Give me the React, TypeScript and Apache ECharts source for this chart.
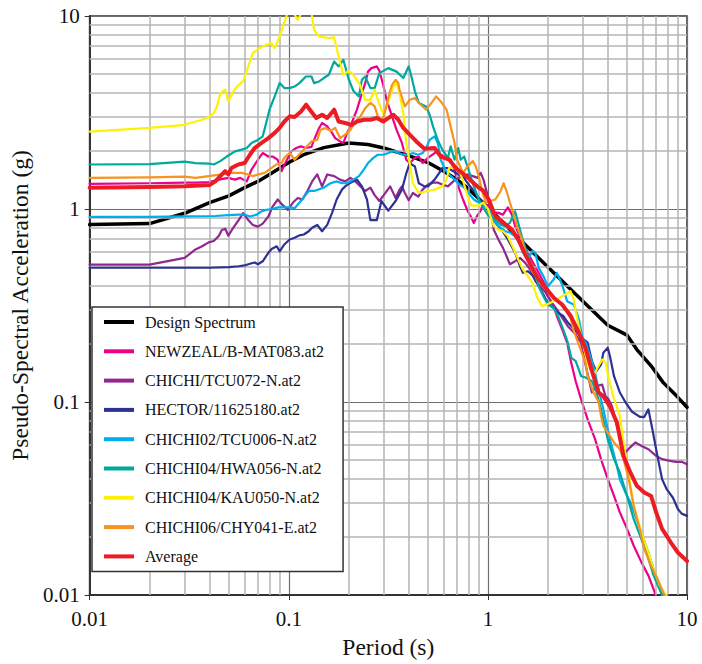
import React, { useEffect, useRef } from "react";
import * as echarts from "echarts";

// [period (s), pseudo-spectral acceleration (g)]
const designSpectrum: number[][] = [[0.01,0.83],[0.02,0.84],[0.03,0.95],[0.04,1.08],[0.05,1.17],[0.06,1.29],[0.07,1.39],[0.08,1.51],[0.1,1.74],[0.12,1.92],[0.15,2.08],[0.2,2.2],[0.25,2.16],[0.3,2.07],[0.4,1.89],[0.5,1.74],[0.6,1.57],[0.7,1.42],[0.8,1.27],[1.0,1.02],[1.5,0.67],[2,0.5],[3,0.333],[4,0.25],[5,0.222],[5.6,0.187],[6.6,0.154],[7.6,0.126],[8.9,0.107],[10,0.094]];

const newzeal: number[][] = [[0.01,1.35],[0.02,1.36],[0.03,1.37],[0.034,1.37],[0.0396,1.38],[0.0446,1.42],[0.0497,1.45],[0.0537,1.42],[0.057,1.45],[0.0615,1.39],[0.065,1.6],[0.07,1.8],[0.074,1.95],[0.079,1.87],[0.083,1.87],[0.088,1.8],[0.092,1.57],[0.097,1.77],[0.103,1.99],[0.109,2.07],[0.115,2.11],[0.122,2.07],[0.13,2.1],[0.134,2.28],[0.142,2.63],[0.147,2.79],[0.156,2.68],[0.165,2.48],[0.171,2.33],[0.181,2.24],[0.188,2.2],[0.195,2.43],[0.207,2.79],[0.22,3.27],[0.233,3.98],[0.242,4.49],[0.25,5.15],[0.26,5.37],[0.277,5.48],[0.285,5.2],[0.298,4.4],[0.31,3.68],[0.33,3.02],[0.348,2.57],[0.37,2.2],[0.389,1.8],[0.405,1.73],[0.43,1.84],[0.45,1.87],[0.47,1.73],[0.5,1.84],[0.54,1.95],[0.56,1.99],[0.58,1.91],[0.62,1.87],[0.65,1.8],[0.68,1.6],[0.71,1.31],[0.75,1.12],[0.79,0.98],[0.82,0.916],[0.85,0.847],[0.88,0.916],[0.92,0.98],[0.95,1.08],[1.01,1.03],[1.07,0.96],[1.13,0.955],[1.19,0.935],[1.26,1.02],[1.32,0.935],[1.37,0.815],[1.45,0.722],[1.54,0.629],[1.67,0.536],[1.8,0.467],[1.95,0.398],[2.0,0.353],[2.14,0.314],[2.22,0.279],[2.36,0.238],[2.5,0.203],[2.62,0.16],[2.76,0.128],[2.94,0.103],[3.17,0.0813],[3.45,0.0644],[3.7,0.0506],[4.0,0.0398],[4.3,0.0326],[4.6,0.0268],[5.0,0.022],[5.4,0.018],[5.9,0.0148],[6.4,0.0126],[6.8,0.0107],[7.0,0.0098]];

const chichiTcu072: number[][] = [[0.01,0.515],[0.02,0.515],[0.03,0.558],[0.034,0.617],[0.0367,0.641],[0.0396,0.672],[0.042,0.683],[0.0446,0.727],[0.0461,0.779],[0.048,0.79],[0.0497,0.727],[0.0527,0.8],[0.056,0.876],[0.059,0.953],[0.0626,0.876],[0.066,0.827],[0.07,0.81],[0.074,0.84],[0.079,0.915],[0.083,1.03],[0.088,1.12],[0.093,1.05],[0.099,0.99],[0.105,1.08],[0.111,1.14],[0.117,1.12],[0.124,1.24],[0.131,1.39],[0.139,1.51],[0.147,1.31],[0.156,1.51],[0.169,1.48],[0.181,1.42],[0.192,1.39],[0.204,1.45],[0.216,1.39],[0.229,1.31],[0.242,1.24],[0.257,1.29],[0.27,1.18],[0.285,1.1],[0.3,1.18],[0.323,1.31],[0.344,1.14],[0.36,1.26],[0.37,1.31],[0.383,1.21],[0.4,1.11],[0.42,1.21],[0.447,1.16],[0.47,1.26],[0.5,1.34],[0.53,1.37],[0.56,1.37],[0.59,1.34],[0.63,1.31],[0.67,1.39],[0.71,1.45],[0.75,1.48],[0.79,1.51],[0.84,1.48],[0.89,1.45],[0.92,1.54],[0.95,1.42],[0.99,1.21],[1.03,1.0],[1.07,0.782],[1.13,0.695],[1.19,0.629],[1.24,0.571],[1.29,0.517],[1.37,0.536],[1.45,0.558],[1.54,0.526],[1.63,0.486],[1.73,0.424],[1.83,0.398],[1.95,0.369],[2.1,0.326],[2.22,0.302],[2.39,0.268],[2.52,0.247],[2.72,0.228],[2.94,0.203],[3.1,0.154],[3.33,0.112],[3.5,0.121],[3.75,0.123],[3.9,0.107],[4.02,0.104],[4.2,0.095],[4.45,0.075],[4.7,0.0617],[4.9,0.0547],[5.2,0.0584],[5.5,0.0617],[5.95,0.059],[6.4,0.0569],[7.0,0.0526],[7.5,0.0506],[8.1,0.0497],[8.8,0.049],[9.4,0.049],[10,0.0476]];

const hector: number[][] = [[0.01,0.496],[0.02,0.496],[0.03,0.496],[0.04,0.496],[0.05,0.5],[0.056,0.505],[0.06,0.51],[0.0638,0.52],[0.0674,0.528],[0.07,0.517],[0.074,0.536],[0.079,0.593],[0.082,0.62],[0.087,0.641],[0.09,0.604],[0.095,0.655],[0.101,0.695],[0.107,0.709],[0.113,0.73],[0.119,0.738],[0.126,0.767],[0.131,0.8],[0.139,0.827],[0.147,0.767],[0.156,0.827],[0.165,0.955],[0.174,1.12],[0.185,1.26],[0.192,1.31],[0.2,1.35],[0.211,1.39],[0.22,1.42],[0.233,1.31],[0.247,1.12],[0.257,0.876],[0.277,0.876],[0.292,1.1],[0.316,0.98],[0.344,1.1],[0.37,1.26],[0.39,1.54],[0.405,1.73],[0.43,1.66],[0.45,1.36],[0.48,1.31],[0.5,1.31],[0.54,1.42],[0.57,1.54],[0.59,1.63],[0.63,1.63],[0.67,1.57],[0.71,1.51],[0.75,1.48],[0.78,1.39],[0.8,1.34],[0.85,1.24],[0.9,1.14],[0.95,1.08],[1.04,0.916],[1.11,0.83],[1.17,0.782],[1.26,0.695],[1.37,0.593],[1.45,0.505],[1.5,0.467],[1.59,0.476],[1.69,0.449],[1.8,0.398],[1.9,0.36],[2.0,0.326],[2.14,0.307],[2.25,0.29],[2.39,0.279],[2.52,0.258],[2.72,0.238],[2.94,0.216],[3.17,0.203],[3.33,0.163],[3.5,0.144],[3.7,0.156],[3.8,0.18],[4.0,0.191],[4.1,0.173],[4.3,0.136],[4.6,0.112],[4.9,0.1],[5.3,0.089],[5.8,0.0837],[6.1,0.0837],[6.4,0.0916],[6.7,0.0722],[7.1,0.0526],[7.5,0.0398],[7.9,0.0354],[8.5,0.0319],[9.0,0.0279],[9.4,0.0264],[10,0.0257]];

const chichi02Tcu006: number[][] = [[0.01,0.91],[0.02,0.91],[0.03,0.915],[0.0428,0.92],[0.0497,0.93],[0.056,0.935],[0.06,0.935],[0.0638,0.915],[0.069,0.935],[0.073,0.973],[0.077,0.99],[0.083,1.0],[0.088,1.02],[0.095,1.02],[0.101,1.02],[0.107,1.01],[0.115,1.1],[0.126,1.24],[0.134,1.24],[0.15,1.29],[0.162,1.36],[0.174,1.39],[0.185,1.36],[0.195,1.36],[0.211,1.42],[0.225,1.48],[0.238,1.6],[0.25,1.73],[0.266,1.84],[0.28,1.91],[0.298,1.91],[0.316,1.95],[0.335,2.0],[0.355,1.95],[0.376,1.91],[0.4,1.91],[0.42,1.95],[0.447,1.91],[0.47,1.95],[0.49,2.07],[0.51,2.28],[0.54,2.38],[0.56,2.2],[0.58,1.8],[0.61,1.6],[0.64,1.51],[0.68,1.42],[0.72,1.34],[0.76,1.29],[0.8,1.21],[0.85,1.12],[0.9,1.08],[1.01,1.0],[1.07,0.88],[1.13,0.815],[1.22,0.767],[1.29,0.755],[1.37,0.722],[1.45,0.655],[1.5,0.593],[1.59,0.547],[1.67,0.604],[1.73,0.593],[1.8,0.496],[1.9,0.449],[2.0,0.398],[2.14,0.431],[2.22,0.467],[2.36,0.405],[2.5,0.333],[2.6,0.326],[2.7,0.32],[2.86,0.27],[3.0,0.211],[3.1,0.203],[3.26,0.173],[3.45,0.142],[3.6,0.116],[3.8,0.0916],[4.1,0.064],[4.4,0.0487],[4.6,0.0398],[4.9,0.034],[5.2,0.0302],[5.5,0.0257],[5.9,0.0211],[6.4,0.0166],[6.8,0.0136],[7.3,0.0112],[7.7,0.0099]];

const chichi04Hwa056: number[][] = [[0.01,1.7],[0.02,1.71],[0.03,1.76],[0.034,1.73],[0.0396,1.72],[0.042,1.7],[0.0453,1.77],[0.0488,1.87],[0.0537,1.99],[0.058,2.03],[0.0615,2.07],[0.065,2.2],[0.07,2.28],[0.074,2.38],[0.077,2.79],[0.08,3.27],[0.085,3.83],[0.09,4.49],[0.095,4.23],[0.101,4.23],[0.107,4.31],[0.113,4.49],[0.122,4.86],[0.13,4.86],[0.134,4.49],[0.142,4.58],[0.15,4.77],[0.159,4.96],[0.169,5.81],[0.178,5.48],[0.188,5.93],[0.2,4.7],[0.211,4.1],[0.225,3.83],[0.233,4.67],[0.242,4.86],[0.257,4.23],[0.27,4.23],[0.285,5.06],[0.316,5.37],[0.348,5.15],[0.376,4.77],[0.4,5.48],[0.413,4.86],[0.43,4.07],[0.45,3.54],[0.49,3.4],[0.51,3.08],[0.53,2.68],[0.56,2.28],[0.59,2.03],[0.63,1.84],[0.65,2.11],[0.68,1.8],[0.71,2.07],[0.73,1.8],[0.76,1.87],[0.79,1.66],[0.85,1.31],[0.9,1.12],[0.94,1.03],[1.01,0.916],[1.09,0.88],[1.16,0.83],[1.22,0.815],[1.29,0.847],[1.37,0.973],[1.42,0.847],[1.48,0.722],[1.54,0.629],[1.63,0.526],[1.73,0.449],[1.8,0.398],[1.9,0.353],[2.0,0.32],[2.14,0.307],[2.25,0.279],[2.39,0.238],[2.52,0.203],[2.62,0.17],[2.76,0.163],[2.94,0.136],[3.1,0.134],[3.33,0.128],[3.5,0.114],[3.7,0.0916],[4.0,0.064],[4.3,0.0506],[4.6,0.0431],[5.0,0.0326],[5.4,0.0247],[5.9,0.0195],[6.4,0.0154],[6.8,0.0126],[7.4,0.0103],[7.6,0.0095]];

const chichi04Kau050: number[][] = [[0.01,2.52],[0.02,2.63],[0.03,2.73],[0.034,2.84],[0.0367,2.9],[0.0396,2.99],[0.042,3.14],[0.0436,3.4],[0.0453,3.98],[0.048,4.15],[0.0497,3.61],[0.0527,4.06],[0.0548,4.31],[0.059,4.58],[0.0626,5.48],[0.066,6.43],[0.0715,6.82],[0.0773,7.09],[0.0817,7.24],[0.085,6.82],[0.09,7.83],[0.0935,8.82],[0.097,9.9],[0.1,10.8],[0.105,10.5],[0.111,9.55],[0.117,10.6],[0.125,11],[0.13,10.4],[0.134,8.47],[0.142,7.83],[0.15,7.75],[0.159,7.69],[0.169,7.75],[0.178,6.17],[0.188,4.96],[0.2,5.2],[0.211,4.96],[0.228,4.4],[0.242,3.68],[0.257,3.68],[0.27,4.15],[0.28,3.68],[0.292,3.27],[0.3,3.08],[0.323,3.83],[0.335,4.31],[0.348,4.49],[0.36,3.98],[0.376,3.14],[0.389,2.2],[0.405,1.73],[0.42,1.36],[0.45,1.21],[0.5,1.24],[0.54,1.26],[0.59,1.31],[0.62,1.42],[0.64,1.64],[0.68,1.64],[0.72,1.57],[0.76,1.34],[0.8,1.12],[0.83,1.04],[0.89,1.04],[0.95,1.08],[1.0,1.0],[1.07,0.815],[1.13,0.782],[1.19,0.767],[1.26,0.722],[1.34,0.629],[1.42,0.547],[1.5,0.486],[1.59,0.449],[1.67,0.415],[1.77,0.347],[1.87,0.314],[1.98,0.32],[2.14,0.333],[2.36,0.353],[2.6,0.375],[2.7,0.34],[2.77,0.29],[2.88,0.24],[3.0,0.2],[3.17,0.16],[3.3,0.145],[3.45,0.142],[3.6,0.154],[3.75,0.166],[3.9,0.16],[4.02,0.136],[4.26,0.107],[4.6,0.0847],[4.8,0.0617],[5.1,0.0414],[5.4,0.029],[5.9,0.0211],[6.4,0.0166],[6.8,0.0136],[7.3,0.0112],[8.0,0.0097]];

const chichi06Chy041: number[][] = [[0.01,1.45],[0.02,1.46],[0.03,1.47],[0.034,1.45],[0.0396,1.48],[0.0461,1.51],[0.0515,1.54],[0.058,1.54],[0.0626,1.51],[0.066,1.48],[0.07,1.51],[0.0757,1.54],[0.0817,1.63],[0.0865,1.7],[0.092,1.73],[0.095,1.84],[0.101,1.95],[0.107,1.8],[0.113,1.92],[0.119,2.03],[0.13,2.24],[0.139,2.28],[0.144,2.57],[0.153,2.63],[0.162,2.54],[0.171,2.63],[0.181,2.33],[0.192,2.43],[0.204,2.57],[0.216,2.84],[0.229,3.02],[0.242,3.33],[0.257,3.55],[0.27,3.4],[0.28,3.02],[0.292,2.84],[0.3,3.02],[0.316,3.76],[0.33,4.4],[0.344,4.67],[0.355,4.49],[0.36,4.15],[0.383,3.4],[0.405,3.68],[0.43,3.76],[0.45,3.54],[0.49,3.27],[0.52,3.54],[0.55,3.83],[0.58,3.61],[0.62,3.27],[0.65,2.68],[0.68,2.2],[0.7,1.8],[0.75,1.54],[0.79,1.66],[0.84,1.77],[0.87,1.66],[0.9,1.48],[0.94,1.21],[0.98,1.08],[1.03,1.1],[1.09,1.12],[1.16,1.24],[1.2,1.36],[1.25,1.21],[1.29,1.08],[1.34,0.955],[1.4,0.815],[1.48,0.695],[1.54,0.6],[1.67,0.476],[1.8,0.431],[1.95,0.391],[2.1,0.36],[2.25,0.333],[2.42,0.307],[2.6,0.273],[2.72,0.228],[2.88,0.195],[3.09,0.16],[3.17,0.136],[3.4,0.112],[3.6,0.1],[3.7,0.0847],[3.8,0.0751],[4.1,0.0667],[4.3,0.0617],[4.6,0.0569],[4.8,0.0506],[5.1,0.0398],[5.4,0.029],[5.8,0.0219],[6.1,0.0173],[6.6,0.0142],[7.1,0.0121],[7.6,0.0103],[7.8,0.0098]];

const average: number[][] = [[0.01,1.29],[0.02,1.3],[0.03,1.31],[0.04,1.33],[0.0428,1.39],[0.0453,1.48],[0.0479,1.57],[0.0497,1.51],[0.0515,1.63],[0.0558,1.7],[0.06,1.73],[0.0638,1.91],[0.0674,2.07],[0.073,2.2],[0.079,2.33],[0.085,2.48],[0.09,2.63],[0.095,2.84],[0.101,3.02],[0.107,3.0],[0.1152,3.2],[0.1222,3.47],[0.1296,3.2],[0.1375,2.96],[0.147,3.08],[0.156,2.96],[0.169,3.27],[0.178,2.84],[0.192,2.79],[0.207,2.73],[0.22,2.84],[0.238,2.9],[0.257,2.9],[0.277,2.96],[0.298,2.84],[0.316,2.96],[0.335,3.08],[0.355,2.9],[0.376,2.63],[0.405,2.43],[0.437,2.24],[0.48,2.05],[0.54,2.07],[0.58,1.87],[0.64,1.8],[0.68,1.66],[0.72,1.57],[0.78,1.48],[0.85,1.36],[0.9,1.29],[0.95,1.24],[1.01,1.12],[1.09,0.916],[1.2,0.847],[1.32,0.782],[1.42,0.695],[1.54,0.581],[1.67,0.495],[1.8,0.431],[1.95,0.391],[2.14,0.347],[2.36,0.32],[2.6,0.28],[2.86,0.23],[3.09,0.19],[3.33,0.145],[3.6,0.112],[3.8,0.107],[4.1,0.095],[4.45,0.078],[4.8,0.0525],[5.2,0.043],[5.6,0.0368],[6.1,0.034],[6.6,0.0326],[7.0,0.0268],[7.5,0.022],[8.3,0.0187],[9.0,0.0166],[10,0.015]];

const minorGridValues: number[] = [0.02,0.03,0.04,0.05,0.06,0.07,0.08,0.09,0.2,0.3,0.4,0.5,0.6,0.7,0.8,0.9,2,3,4,5,6,7,8,9];

const seriesDefs = [
  { name: "Design Spectrum", data: designSpectrum, color: "#000000", width: 3.5 },
  { name: "NEWZEAL/B-MAT083.at2", data: newzeal, color: "#ec008c", width: 2.2 },
  { name: "CHICHI/TCU072-N.at2", data: chichiTcu072, color: "#92278f", width: 2.2 },
  { name: "HECTOR/11625180.at2", data: hector, color: "#2e3192", width: 2.2 },
  { name: "CHICHI02/TCU006-N.at2", data: chichi02Tcu006, color: "#00aeef", width: 2.2 },
  { name: "CHICHI04/HWA056-N.at2", data: chichi04Hwa056, color: "#00a99d", width: 2.2 },
  { name: "CHICHI04/KAU050-N.at2", data: chichi04Kau050, color: "#fff200", width: 2.2 },
  { name: "CHICHI06/CHY041-E.at2", data: chichi06Chy041, color: "#f7941d", width: 2.2 },
  { name: "Average", data: average, color: "#ed1c24", width: 4 },
];

const FONT = "Liberation Serif";

export default function App() {
  const ref = useRef<HTMLDivElement>(null);
  useEffect(() => {
    document.body.style.margin = "0";
    if (!ref.current) return;
    const chart = echarts.init(ref.current, undefined, { renderer: "svg" });
    const gridSeries: any = {
      name: "__grid",
      type: "line",
      data: [],
      silent: true,
      z: 1,
      markLine: {
        silent: true,
        symbol: ["none", "none"],
        label: { show: false },
        animation: false,
        lineStyle: { color: "#b4b4b4", width: 1.5, type: "solid" },
        data: [
          ...minorGridValues.map((v) => ({ xAxis: v })),
          ...minorGridValues.map((v) => ({ yAxis: v })),
        ],
      },
    };
    const option: any = {
      animation: false,
      textStyle: { fontFamily: "serif" },
      grid: {
        left: 83, top: 16, right: 15, bottom: 68,
        show: true, borderColor: "#333", borderWidth: 1.5, backgroundColor: "transparent",
      },
      legend: {
        orient: "vertical",
        left: 92,
        top: 307,
        data: seriesDefs.map((s) => s.name),
        icon: "rect",
        itemWidth: 30,
        itemHeight: 4,
        itemGap: 11.3,
        padding: [6, 19, 6, 12],
        backgroundColor: "#ffffff",
        borderColor: "#333",
        borderWidth: 1.5,
        borderRadius: 0,
        z: 10,
        selectedMode: false,
        textStyle: { fontFamily: FONT, fontSize: 16, color: "#111", lineHeight: 18, padding: [0, 0, 0, 6] },
      },
      xAxis: {
        type: "log",
        logBase: 10,
        min: 0.01,
        max: 10,
        name: "Period (s)",
        nameLocation: "middle",
        nameGap: 40,
        nameTextStyle: { fontFamily: FONT, fontSize: 23.5, color: "#111" },
        axisLine: { show: true, lineStyle: { color: "#333", width: 2 } },
        axisTick: { show: true, length: 5, lineStyle: { color: "#333" } },
        axisLabel: { fontFamily: FONT, fontSize: 21, color: "#111", margin: 13 },
        splitLine: { show: true, lineStyle: { color: "#6e6e6e", width: 1.2 } },
      },
      yAxis: {
        type: "log",
        logBase: 10,
        min: 0.01,
        max: 10,
        name: "Pseudo-Spectral Acceleration (g)",
        nameLocation: "middle",
        nameGap: 48,
        nameTextStyle: { fontFamily: FONT, fontSize: 23.5, color: "#111" },
        axisLine: { show: true, lineStyle: { color: "#333", width: 2 } },
        axisTick: { show: true, length: 5, lineStyle: { color: "#333" } },
        axisLabel: { fontFamily: FONT, fontSize: 21, color: "#111", margin: 10 },
        splitLine: { show: true, lineStyle: { color: "#6e6e6e", width: 1.2 } },
      },
      series: [
        gridSeries,
        ...seriesDefs.map((s, i) => ({
          name: s.name,
          type: "line",
          data: s.data,
          showSymbol: false,
          symbol: "none",
          clip: true,
          z: 3 + i,
          color: s.color,
          lineStyle: { color: s.color, width: s.width, join: "round", cap: "round" },
          itemStyle: { color: s.color },
        })),
      ],
    };
    chart.setOption(option);
    return () => chart.dispose();
  }, []);
  return <div ref={ref} style={{ width: 702, height: 664 }} />;
}
